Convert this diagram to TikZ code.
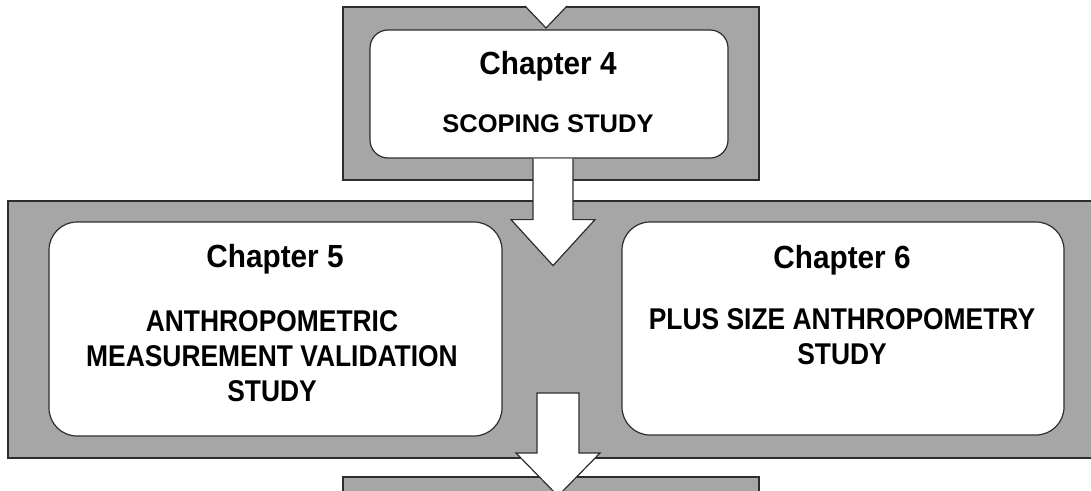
\documentclass[tikz,border=0pt]{standalone}
\usepackage{fontspec}
\setmainfont{Liberation Sans}
\newfontfamily\headfont[FakeStretch=0.93]{Liberation Sans}
\newfontfamily\narrowfont[FakeStretch=0.88]{Liberation Sans}
\usepackage{tikz}
\usetikzlibrary{calc}

\definecolor{panelgray}{RGB}{166,166,166}
\definecolor{edgegray}{RGB}{45,45,45}

\begin{document}
\begin{tikzpicture}[
        x=1pt, y=-1pt,
        panel/.style={draw=edgegray, fill=panelgray, line width=1.2pt, minimum width=0pt, minimum height=0pt, inner sep=0pt},
        chapbox/.style={draw=edgegray, fill=white, line width=1.2pt, inner sep=0pt},
        headtext/.style={font=\headfont\bfseries\fontsize{32}{38}\selectfont, inner sep=0pt, anchor=base},
        bodytext/.style={font=\narrowfont\bfseries\fontsize{30}{35}\selectfont, inner sep=0pt, align=center, anchor=base},
        blockarrow/.style={draw=edgegray, fill=white, line width=1.2pt, line join=miter}
    ]
    \useasboundingbox (0,0) rectangle (1091,490);
    \clip (0,0) rectangle (1091,490);

    % Grey panels
    \node[panel, minimum width=416pt, minimum height=173pt] (panelTop) at (551,93.5) {};
    \node[panel, minimum width=1087pt, minimum height=257pt] (panelMid) at (551.5,329.5) {};
    \node[panel, minimum width=416pt, minimum height=43pt] (panelBot) at (551,498.5) {};

    % Chapter 4
    \node[chapbox, rounded corners=18pt, minimum width=358pt, minimum height=128pt] (ch4) at (549,94) {};
    \node[headtext] (ch4title) at (548,74) {Chapter 4};
    \node[inner sep=0pt, anchor=base, font=\bfseries\fontsize{25.5}{30}\selectfont] (ch4body) at (548,132) {SCOPING STUDY};

    % Arrow coming in from above
    \coordinate (ch4in) at (546,28);
    \fill[white] ([shift={(-21,-22)}]ch4in) -- (ch4in) -- ++(21,-22) -- cycle;
    \draw[edgegray, line width=1.2pt] ([shift={(-21,-22)}]ch4in) -- (ch4in) -- ++(21,-22);

    % Chapter 5 (base of a multi-line node = last line)
    \node[chapbox, rounded corners=28pt, minimum width=453pt, minimum height=214pt] (ch5) at (275.5,329) {};
    \node[headtext] (ch5title) at (275,267) {Chapter 5};
    \node[bodytext] (ch5body) at (272,401) {ANTHROPOMETRIC\\MEASUREMENT VALIDATION\\STUDY};

    % Chapter 6
    \node[chapbox, rounded corners=28pt, minimum width=442pt, minimum height=213pt] (ch6) at (843,328.5) {};
    \node[headtext] (ch6title) at (842,268) {Chapter 6};
    \node[bodytext] (ch6body) at (842,364) {PLUS SIZE ANTHROPOMETRY\\STUDY};

    % Arrow from chapter 4 down into the middle panel
    \draw[blockarrow] ([xshift=-16pt]ch4.south) -- ++(0,61) -- ++(-22,0) -- ++(42,46)
        -- ++(42,-46) -- ++(-22,0) -- ++(0,-61);

    % Arrow out of the middle panel
    \coordinate (midout) at (558,393);
    \draw[blockarrow] ([xshift=-21pt]midout) -- ++(42,0) -- ++(0,60) -- ++(21,0)
        -- ++(-42,43) -- ++(-42,-43) -- ++(21,0) -- cycle;

\end{tikzpicture}
\end{document}
